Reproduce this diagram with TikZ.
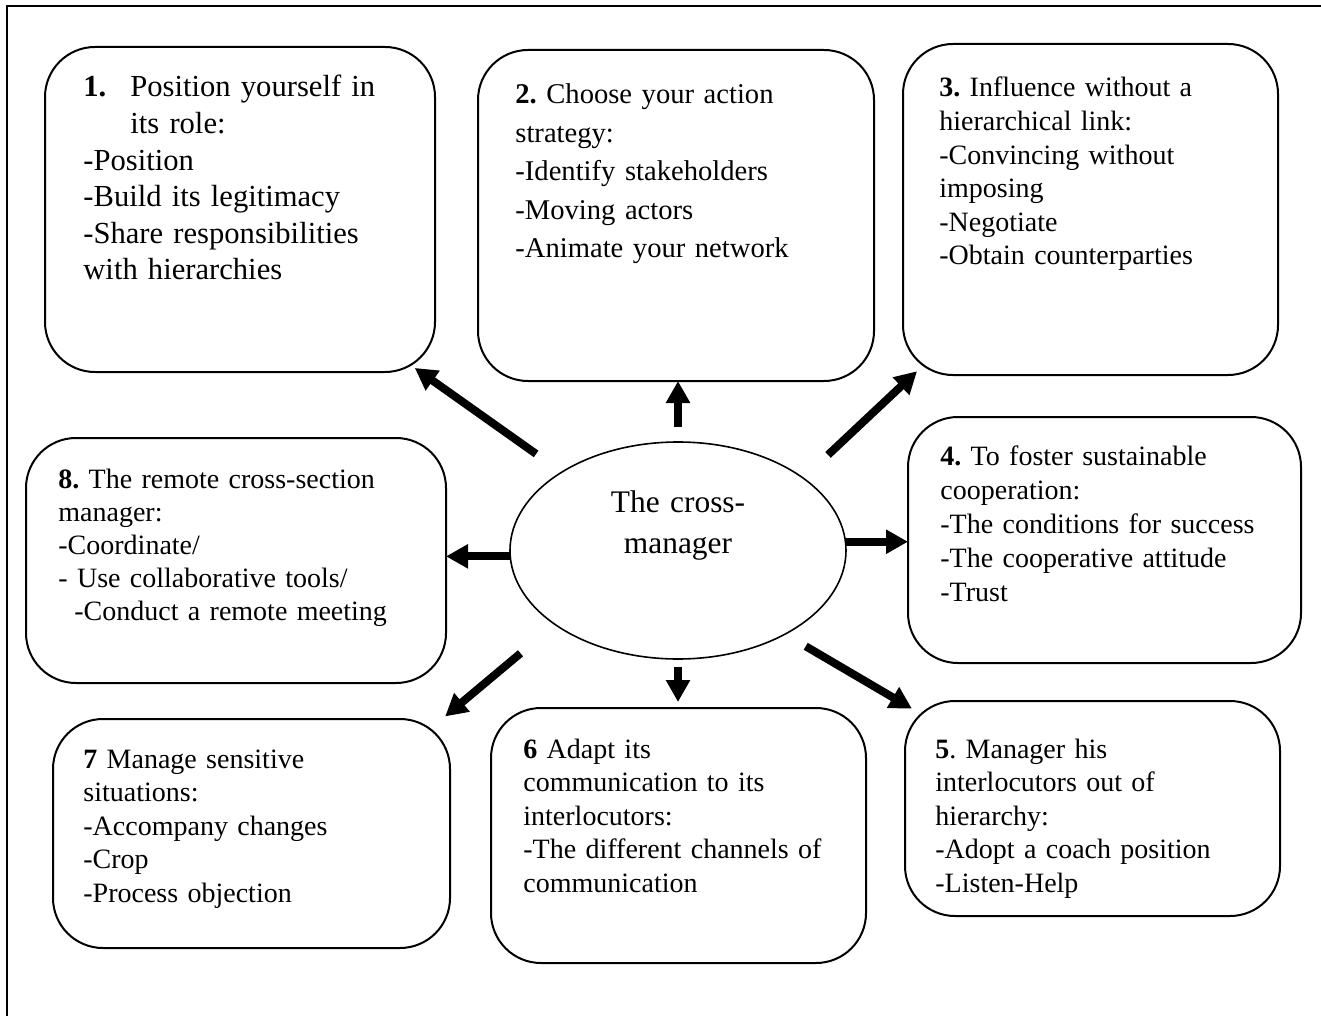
\documentclass[tikz,border=0pt]{standalone}
\usepackage{fontspec}
\setmainfont{Liberation Serif}
\frenchspacing
\usetikzlibrary{positioning, shapes.geometric, arrows.meta, calc}

\tikzset{
  card/.style={draw, line width=1pt, rounded corners=25pt, inner sep=0pt, outer sep=0pt},
  cardtext/.style={anchor=base west, inner sep=0pt, align=left, text width=190pt,
                   font=\fontsize{14}{16.8}\selectfont},
  fat/.style={line width=4pt, -{Triangle[length=11pt,width=11.5pt]}},
}

\begin{document}
\begin{tikzpicture}[x=0.5pt, y=-0.5pt]
    \useasboundingbox (0,0) rectangle (1321,1016);
    \draw[line width=1.2pt] (7,1016) -- (7,6) -- (1321,6);

    % centre
    \node[draw, ellipse, line width=0.8pt, inner sep=0pt, outer sep=0pt,
          minimum width=168pt, minimum height=108.5pt] (cm) at (678,550.5) {};
    \node[anchor=base, inner sep=0pt, align=center, text width=120pt,
          font=\fontsize{15.7}{20.5}\selectfont] (cmtext) at (678,512) {The cross-\\manager};

    % top row
    \node[card, minimum width=195pt, minimum height=162.5pt] (b1) at (240,209.5) {};
    \node[cardtext, font=\fontsize{15.3}{18.3}\selectfont] (t1) at (83,97)
      {\makebox[23.5pt][l]{\textbf{1.}}Position yourself in\\\hspace*{23.5pt}its role:\\
       -Position\\-Build its legitimacy\\-Share responsibilities\\with hierarchies};
    \node[card, minimum width=198pt, minimum height=165.5pt] (b2) at (676,215.5) {};
    \node[cardtext, font=\fontsize{14.3}{19.25}\selectfont] (t2) at (515,104)
      {\textbf{2.} Choose your action\\strategy:\\-Identify stakeholders\\-Moving actors\\-Animate your network};
    \node[card, minimum width=187.5pt, minimum height=165.5pt] (b3) at (1090.5,209.5) {};
    \node[cardtext] (t3) at (939,97)
      {\textbf{3.} Influence without a\\hierarchical link:\\-Convincing without\\imposing\\-Negotiate\\-Obtain counterparties};

    % middle row
    \node[card, minimum width=210pt, minimum height=122.5pt] (b8) at (236,560.5) {};
    \node[cardtext, font=\fontsize{14}{16.5}\selectfont] (t8) at (58,488)
      {\textbf{8.} The remote cross-section\\manager:\\-Coordinate/\\- Use collaborative tools/\\\hspace*{8pt}-Conduct a remote meeting};
    \node[card, minimum width=196.5pt, minimum height=123pt] (b4) at (1104.5,540) {};
    \node[cardtext, font=\fontsize{14}{17}\selectfont] (t4) at (940,465)
      {\textbf{4.} To foster sustainable\\cooperation:\\-The conditions for success\\-The cooperative attitude\\-Trust};

    % bottom row
    \node[card, minimum width=198.5pt, minimum height=114.5pt] (b7) at (251.5,833.5) {};
    \node[cardtext] (t7) at (83,768)
      {\textbf{7} Manage sensitive\\situations:\\-Accompany changes\\-Crop\\-Process objection};
    \node[card, minimum width=187.5pt, minimum height=127.5pt] (b6) at (678.5,835.5) {};
    \node[cardtext] (t6) at (523,758)
      {\textbf{6} Adapt its\\communication to its\\interlocutors:\\-The different channels of\\communication};
    \node[card, minimum width=187.5pt, minimum height=107.5pt] (b5) at (1092.5,808.5) {};
    \node[cardtext] (t5) at (935,758)
      {\textbf{5}. Manager his\\interlocutors out of\\hierarchy:\\-Adopt a coach position\\-Listen-Help};

    % arrows out of the centre
    \draw[fat, shorten <=15.75pt, shorten >=-3.5pt] (cm.146) -- (b1.-42.3);
    \draw[fat, shorten <=7.5pt] (cm.north) -- (cm.north |- b2.south);
    \draw[fat, shorten <=17pt, shorten >=-2.75pt] (cm.30.2) -- (b3.223.6);
    \draw[fat] (cm.3) -- (cm.3 -| b4.west);
    \draw[fat, shorten <=12pt, shorten >=-4pt] (cm.-38.3) -- (b5.151.7);
    \draw[fat, shorten <=4pt, shorten >=3pt] (cm.south) -- (cm.south |- b6.north);
    \draw[fat, shorten <=22.5pt, shorten >=2pt] (cm.211.8) -- (b7.31.9);
    \draw[fat] (cm.182) -- (cm.182 -| b8.east);
\end{tikzpicture}
\end{document}
